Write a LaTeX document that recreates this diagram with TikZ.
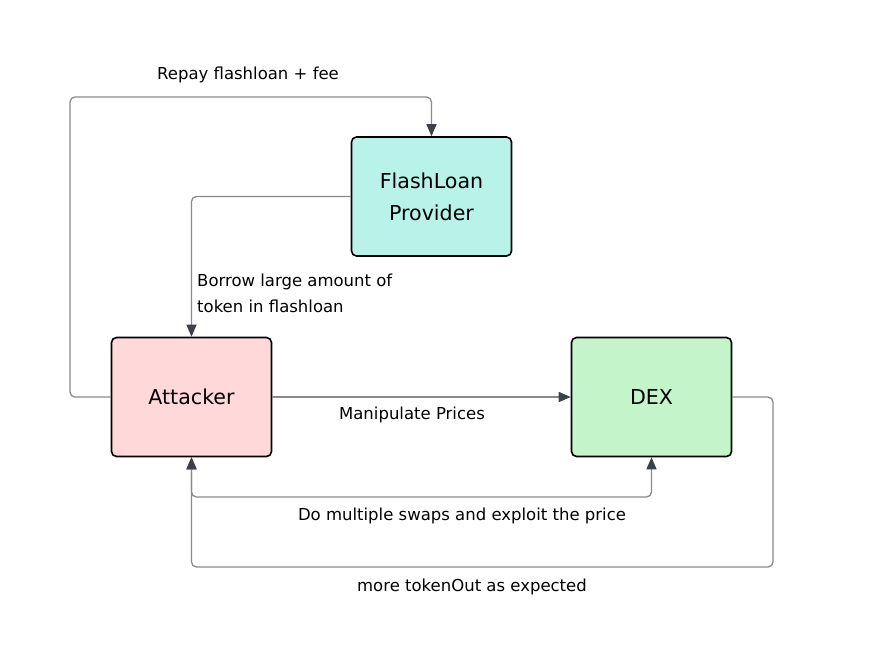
\documentclass[tikz,border=0pt]{standalone}
\usepackage{fontspec}
\setmainfont{DejaVu Sans}
\usetikzlibrary{calc,positioning,arrows.meta}
\definecolor{loanfill}{HTML}{B8F2E9}
\definecolor{attackfill}{HTML}{FFD9D9}
\definecolor{dexfill}{HTML}{C4F5CA}
\definecolor{linkgray}{HTML}{8A8A8A}
\definecolor{tipgray}{HTML}{3C4048}

\begin{document}
\begin{tikzpicture}[
    x=1pt,y=-1pt,
    actor box/.style={draw=black,line width=1.6pt,rounded corners=5pt,minimum width=160pt,minimum height=119pt,align=center,font=\fontsize{20.6}{32}\selectfont},
    link/.style={draw=linkgray,line width=1.3pt,rounded corners=5pt,-{Triangle[length=12pt,width=10pt,fill=tipgray,color=tipgray]}},
    two way link/.style={link,{Triangle[length=12pt,width=10pt,fill=tipgray,color=tipgray]}-{Triangle[length=12pt,width=10pt,fill=tipgray,color=tipgray]}},
    link label/.style={font=\fontsize{16.5}{26}\selectfont,inner sep=0pt},
  ]
  \useasboundingbox (0,0) rectangle (878,645);

  \node[actor box,fill=loanfill] (flashloan) at (431.5,196.5) {FlashLoan\\Provider};
  \node[actor box,fill=attackfill] (attacker) at (191.5,397) {\raisebox{-2pt}{Attacker}};
  \node[actor box,fill=dexfill] (dex) at (651.5,397) {\raisebox{-2pt}{DEX}};

  \coordinate (repay corner) at (70,97);
  \coordinate (swap corner) at (0,497);
  \coordinate (out corner) at (773,567);

  % repay loop over the top
  \draw[link] (attacker.west) -| (repay corner) -| (flashloan.north);
  \node[link label] (repay label) at (248,74.5) {Repay flashloan + fee};

  \draw[link] (flashloan.west) -| (attacker.north);
  \node[link label,anchor=west,align=left] (borrow label) at (197,293) {Borrow large amount of\\token in flashloan};

  \draw[link] (attacker.east) -- (dex.west);
  \node[link label] (manipulate label) at (412,414.5) {Manipulate Prices};

  \draw[two way link] (attacker.south) |- (swap corner -| dex.south) -- (dex.south);
  \node[link label] (swap label) at (462,515.5) {Do multiple swaps and exploit the price};

  \draw[link] (dex.east) -| (out corner) -| (attacker.south);
  \node[link label] (out label) at (472,586.5) {more tokenOut as expected};

\end{tikzpicture}
\end{document}
